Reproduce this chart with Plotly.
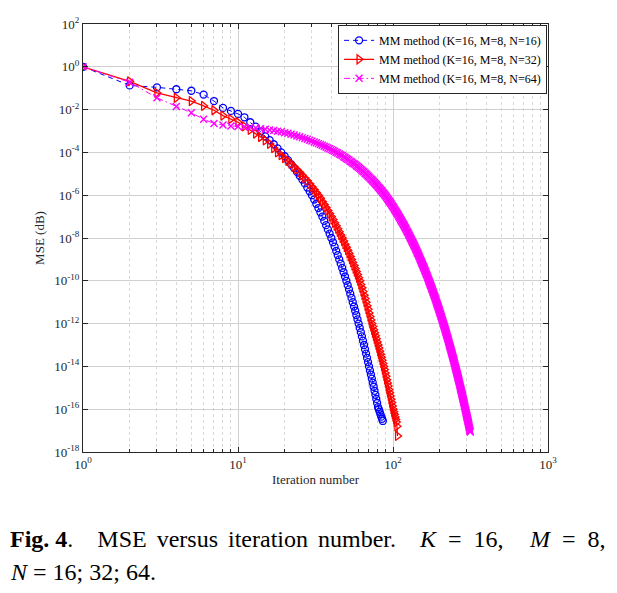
import plotly.graph_objects as go

# ---------------- data (log10 of MSE) ----------------
iter_n16 = list(range(1, 87))
logmse_n16 = [
    0.00, -0.87, -0.96, -1.05, -1.12, -1.30, -1.60, -1.92, -2.06, -2.20,
    -2.36, -2.59, -2.80, -3.02, -3.25, -3.43, -3.62, -3.81, -4.00, -4.18,
    -4.36, -4.55, -4.73, -4.91, -5.09, -5.27, -5.45, -5.64, -5.82, -6.00,
    -6.20, -6.40, -6.60, -6.80, -7.00, -7.20, -7.40, -7.60, -7.80, -8.00,
    -8.20, -8.40, -8.60, -8.80, -9.00, -9.20, -9.40, -9.60, -9.80, -10.00,
    -10.20, -10.40, -10.60, -10.80, -11.00, -11.20, -11.40, -11.60, -11.80, -12.00,
    -12.20, -12.40, -12.60, -12.80, -13.00, -13.20, -13.40, -13.60, -13.80, -14.00,
    -14.19, -14.38, -14.57, -14.76, -14.95, -15.14, -15.33, -15.52, -15.71, -15.90,
    -16.00, -16.12, -16.24, -16.35, -16.45, -16.55,
]

iter_n32 = list(range(1, 108))
logmse_n32 = [
    0.00, -0.68, -1.22, -1.45, -1.60, -1.83, -2.03, -2.28, -2.44, -2.59,
    -2.78, -2.95, -3.12, -3.28, -3.44, -3.60, -3.80, -4.00, -4.13, -4.27,
    -4.40, -4.53, -4.67, -4.80, -4.93, -5.07, -5.20, -5.33, -5.47, -5.60,
    -5.73, -5.87, -6.00, -6.14, -6.29, -6.43, -6.57, -6.71, -6.86, -7.00,
    -7.14, -7.29, -7.43, -7.57, -7.71, -7.86, -8.00, -8.14, -8.29, -8.43,
    -8.57, -8.71, -8.86, -9.00, -9.14, -9.29, -9.43, -9.57, -9.71, -9.86,
    -10.00, -10.17, -10.33, -10.50, -10.67, -10.83, -11.00, -11.17, -11.33, -11.50,
    -11.67, -11.83, -12.00, -12.14, -12.29, -12.43, -12.57, -12.71, -12.86, -13.00,
    -13.14, -13.29, -13.43, -13.57, -13.71, -13.86, -14.00, -14.15, -14.31, -14.46,
    -14.62, -14.77, -14.92, -15.08, -15.23, -15.38, -15.54, -15.69, -15.85, -16.00,
    -16.12, -16.24, -16.36, -16.48, -16.60, -16.80, -17.25,
]

iter_n64 = list(range(1, 316))
logmse_n64 = [
    0.00, -0.72, -1.45, -1.85, -2.15, -2.45, -2.65, -2.72, -2.77, -2.79,
    -2.81, -2.83, -2.86, -2.89, -2.92, -2.95, -2.98, -3.01, -3.04, -3.08,
    -3.11, -3.15, -3.19, -3.23, -3.27, -3.31, -3.35, -3.39, -3.43, -3.47,
    -3.51, -3.55, -3.59, -3.63, -3.67, -3.71, -3.75, -3.79, -3.83, -3.87,
    -3.91, -3.95, -3.99, -4.03, -4.07, -4.11, -4.15, -4.20, -4.24, -4.28,
    -4.32, -4.36, -4.41, -4.45, -4.49, -4.53, -4.57, -4.62, -4.66, -4.70,
    -4.74, -4.79, -4.83, -4.88, -4.92, -4.97, -5.01, -5.06, -5.10, -5.15,
    -5.19, -5.24, -5.28, -5.33, -5.37, -5.42, -5.46, -5.51, -5.55, -5.60,
    -5.64, -5.69, -5.73, -5.78, -5.82, -5.87, -5.91, -5.96,
    -6.00, -6.05, -6.10, -6.15, -6.20, -6.25, -6.29, -6.34, -6.39, -6.44,
    -6.49, -6.54, -6.59, -6.64, -6.69, -6.74, -6.78, -6.83, -6.88, -6.93,
    -6.98, -7.03, -7.08, -7.13, -7.18, -7.23, -7.27, -7.32, -7.37, -7.42,
    -7.47, -7.52, -7.57, -7.62, -7.67, -7.72, -7.76, -7.81, -7.86, -7.91,
    -7.96, -8.01, -8.06, -8.11, -8.16, -8.21, -8.25, -8.30, -8.35, -8.40,
    -8.45, -8.50, -8.55, -8.60, -8.65, -8.70, -8.74, -8.79, -8.84, -8.89,
    -8.94, -8.99, -9.04, -9.09, -9.14, -9.19, -9.23, -9.28, -9.33, -9.38,
    -9.43, -9.48, -9.53, -9.58, -9.63, -9.68, -9.72, -9.77, -9.82, -9.87,
    -9.92, -9.97, -10.02, -10.07, -10.12, -10.17, -10.21, -10.26, -10.31, -10.36,
    -10.41, -10.46, -10.51, -10.56, -10.61, -10.66, -10.70, -10.75, -10.80, -10.85,
    -10.90, -10.95, -11.00, -11.05, -11.10, -11.15, -11.19, -11.24, -11.29, -11.34,
    -11.39, -11.44, -11.49, -11.54, -11.59, -11.64, -11.68, -11.73, -11.78, -11.83,
    -11.88, -11.93, -11.98, -12.03, -12.08, -12.13, -12.17, -12.22, -12.27, -12.32,
    -12.37, -12.42, -12.47, -12.52, -12.57, -12.62, -12.66, -12.71, -12.76, -12.81,
    -12.86, -12.91, -12.96, -13.01, -13.06, -13.11, -13.15, -13.20, -13.25, -13.30,
    -13.35, -13.40, -13.45, -13.50, -13.55, -13.60, -13.64, -13.69, -13.74, -13.79,
    -13.84, -13.89, -13.94, -13.99, -14.04, -14.09, -14.13, -14.18, -14.23, -14.28,
    -14.33, -14.38, -14.43, -14.48, -14.53, -14.58, -14.62, -14.67, -14.72, -14.77,
    -14.82, -14.87, -14.92, -14.97, -15.02, -15.07, -15.11, -15.16, -15.21, -15.26,
    -15.31, -15.36, -15.41, -15.46, -15.51, -15.56, -15.60, -15.65, -15.70, -15.75,
    -15.80, -15.85, -15.90, -15.95, -16.00, -16.05, -16.09, -16.14, -16.19, -16.24,
    -16.29, -16.34, -16.39, -16.44, -16.49, -16.54, -16.58, -16.63, -16.68, -16.73,
    -16.78, -16.83, -16.88, -16.93, -16.98, -17.03, -17.07,
]

series_names = [
    "MM method (K=16, M=8, N=16)",
    "MM method (K=16, M=8, N=32)",
    "MM method (K=16, M=8, N=64)",
]

x_tick_exps = [0, 1, 2, 3]
y_tick_exps = list(range(-18, 3, 2))
x_minor_vals = [m * 10 ** e for e in range(0, 3) for m in range(2, 10)]

FONT = "Liberation Serif, Times New Roman, serif"
AXIS_COL = "#262626"

fig = go.Figure()

fig.add_trace(go.Scatter(
    x=iter_n16, y=[10 ** v for v in logmse_n16], mode="lines+markers",
    name=series_names[0],
    line=dict(color="#0000FF", width=1, dash="5px,4px"),
    marker=dict(symbol="circle-open", size=7, color="#0000FF", line=dict(width=1.3, color="#0000FF")),
))
fig.add_trace(go.Scatter(
    x=iter_n32, y=[10 ** v for v in logmse_n32], mode="lines+markers",
    name=series_names[1],
    line=dict(color="#FF0000", width=1.3),
    marker=dict(symbol="triangle-right-open", size=8, color="#FF0000", line=dict(width=1.3, color="#FF0000")),
))
fig.add_trace(go.Scatter(
    x=iter_n64, y=[10 ** v for v in logmse_n64], mode="lines+markers",
    name=series_names[2],
    line=dict(color="#FF00FF", width=1, dash="6px,3px,1.5px,3px"),
    marker=dict(symbol="x-thin", size=7, color="#FF00FF", line=dict(width=1.4, color="#FF00FF")),
))

fig.update_xaxes(
    type="log", range=[0, 3],
    tickvals=[10 ** e for e in x_tick_exps],
    ticktext=[f"10<sup>{e}</sup>" for e in x_tick_exps],
    showgrid=True, gridcolor="#d0d0d0", gridwidth=1,
    ticks="inside", ticklen=5, tickcolor=AXIS_COL,
    showline=True, linecolor=AXIS_COL, linewidth=1, mirror="ticks",
    zeroline=False, ticklabeloverflow="allow",
    tickfont=dict(family=FONT, size=13, color=AXIS_COL),
    title=dict(text="Iteration number", font=dict(family=FONT, size=13, color=AXIS_COL), standoff=4),
    minor=dict(tickvals=x_minor_vals, ticks="inside", ticklen=3, tickcolor=AXIS_COL,
               showgrid=True, griddash="dot", gridcolor="#d8d8d8", gridwidth=1),
)
fig.update_yaxes(
    type="log", range=[-18, 2],
    tickvals=[10.0 ** e for e in y_tick_exps],
    ticktext=[f"10<sup>{e}</sup>" for e in y_tick_exps],
    showgrid=True, gridcolor="#d0d0d0", gridwidth=1,
    ticks="inside", ticklen=5, tickcolor=AXIS_COL,
    showline=True, linecolor=AXIS_COL, linewidth=1, mirror="ticks",
    zeroline=False, ticklabeloverflow="allow",
    tickfont=dict(family=FONT, size=13, color=AXIS_COL),
    title=dict(text="MSE (dB)", font=dict(family=FONT, size=13, color=AXIS_COL), standoff=6),
)

NB = "\u00a0"
SP = "\u00a0\u2006"
CAP = 24
fig.add_annotation(xref="paper", yref="paper", x=-0.1613, y=-0.204, xanchor="left", yanchor="middle",
                   showarrow=False, align="left",
                   text="<b>Fig." + NB + "4</b>." + NB * 4 + "MSE" + SP + "versus" + SP
                        + "iteration" + SP + "number.",
                   font=dict(family=FONT, size=CAP, color="black"))
fig.add_annotation(xref="paper", yref="paper", x=0.718, y=-0.204, xanchor="left", yanchor="middle",
                   showarrow=False,
                   text="<i>K</i>" + NB * 2 + "=" + NB * 2 + "16,",
                   font=dict(family=FONT, size=CAP, color="black"))
fig.add_annotation(xref="paper", yref="paper", x=1.128, y=-0.204, xanchor="right", yanchor="middle",
                   showarrow=False,
                   text="<i>M</i>" + NB * 2 + "=" + NB * 2 + "8,",
                   font=dict(family=FONT, size=CAP, color="black"))
fig.add_annotation(xref="paper", yref="paper", x=-0.1613, y=-0.280, xanchor="left", yanchor="middle",
                   showarrow=False,
                   text="<i>N</i>" + NB + "=" + NB + "16;" + NB + "32;" + NB + "64.",
                   font=dict(family=FONT, size=CAP, color="black"))

# page body adds 8px margin, so the figure is sized/offset to compensate
fig.update_layout(
    width=601, height=577,
    margin=dict(l=75, r=61, t=7, b=133),
    paper_bgcolor="white", plot_bgcolor="white",
    font=dict(family=FONT, color=AXIS_COL),
    showlegend=True,
    legend=dict(
        x=0.998, y=0.998, xanchor="right", yanchor="top",
        bgcolor="white", bordercolor=AXIS_COL, borderwidth=1,
        font=dict(family=FONT, size=12, color="black"),
        itemwidth=30, tracegroupgap=0,
    ),
)

fig.write_html("out.html")
